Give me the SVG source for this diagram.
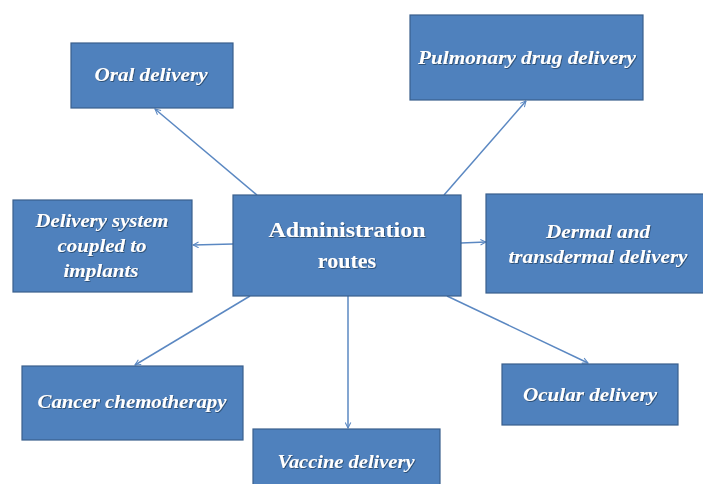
<svg xmlns="http://www.w3.org/2000/svg" width="703" height="484" viewBox="0 0 703 484">
<style>
.box{fill:#4F81BD;stroke:#3A5F8C;stroke-width:1.2}
.t{font-family:"Liberation Serif","Times New Roman",serif;font-style:italic;font-weight:bold;font-size:18px;fill:#ffffff;text-anchor:middle;filter:url(#sh)}
.c{font-family:"Liberation Serif","Times New Roman",serif;font-weight:bold;font-size:22px;fill:#ffffff;text-anchor:middle;filter:url(#sh)}
.ln{stroke:#5B88C2;stroke-width:1.5;fill:none;marker-end:url(#ah)}
</style>
<defs>
<marker id="ah" viewBox="0 0 10 10" refX="9" refY="5" markerWidth="7" markerHeight="7" orient="auto" markerUnits="userSpaceOnUse">
<path d="M1,1 L9,5 L1,9" fill="none" stroke="#5B88C2" stroke-width="1.5"/>
</marker>
<filter id="sh" x="-5%" y="-20%" width="110%" height="140%">
<feDropShadow dx="0.8" dy="0.8" stdDeviation="0.4" flood-color="#1f3550" flood-opacity="0.8"/>
</filter>
</defs>
<rect width="703" height="484" fill="#ffffff"/>
<g id="connectors">
<line class="ln" x1="257" y1="195" x2="155" y2="109"/>
<line class="ln" x1="444" y1="195" x2="526" y2="101"/>
<line class="ln" x1="233" y1="244" x2="193" y2="245"/>
<line class="ln" x1="461" y1="243" x2="486" y2="242"/>
<line class="ln" x1="250" y1="296" x2="135" y2="365"/>
<line class="ln" x1="348" y1="296" x2="348" y2="428"/>
<line class="ln" x1="447" y1="296" x2="588" y2="363"/>
</g>
<g id="center">
<rect class="box" x="233" y="195" width="228" height="101"/>
<text class="c" x="347" y="237" textLength="157" lengthAdjust="spacingAndGlyphs">Administration</text>
<text class="c" x="347" y="268">routes</text>
</g>
<g id="oral">
<rect class="box" x="71" y="43" width="162" height="65"/>
<text class="t" x="151" y="81" textLength="113" lengthAdjust="spacingAndGlyphs">Oral delivery</text>
</g>
<g id="pulmonary">
<rect class="box" x="410" y="15" width="233" height="85"/>
<text class="t" x="527" y="64" textLength="218" lengthAdjust="spacingAndGlyphs">Pulmonary drug delivery</text>
</g>
<g id="implants">
<rect class="box" x="13" y="200" width="179" height="92"/>
<text class="t" x="102" y="227" textLength="133" lengthAdjust="spacingAndGlyphs">Delivery system</text>
<text class="t" x="102" y="252" textLength="89" lengthAdjust="spacingAndGlyphs">coupled to</text>
<text class="t" x="101" y="277" textLength="75" lengthAdjust="spacingAndGlyphs">implants</text>
</g>
<g id="dermal">
<rect class="box" x="486" y="194" width="220" height="99"/>
<text class="t" x="598" y="238" textLength="104" lengthAdjust="spacingAndGlyphs">Dermal and</text>
<text class="t" x="598" y="263" textLength="179" lengthAdjust="spacingAndGlyphs">transdermal delivery</text>
</g>
<g id="cancer">
<rect class="box" x="22" y="366" width="221" height="74"/>
<text class="t" x="132" y="408" textLength="189" lengthAdjust="spacingAndGlyphs">Cancer chemotherapy</text>
</g>
<g id="vaccine">
<rect class="box" x="253" y="429" width="187" height="60"/>
<text class="t" x="346" y="468" textLength="137" lengthAdjust="spacingAndGlyphs">Vaccine delivery</text>
</g>
<g id="ocular">
<rect class="box" x="502" y="364" width="176" height="61"/>
<text class="t" x="590" y="401" textLength="134" lengthAdjust="spacingAndGlyphs">Ocular delivery</text>
</g>
</svg>
